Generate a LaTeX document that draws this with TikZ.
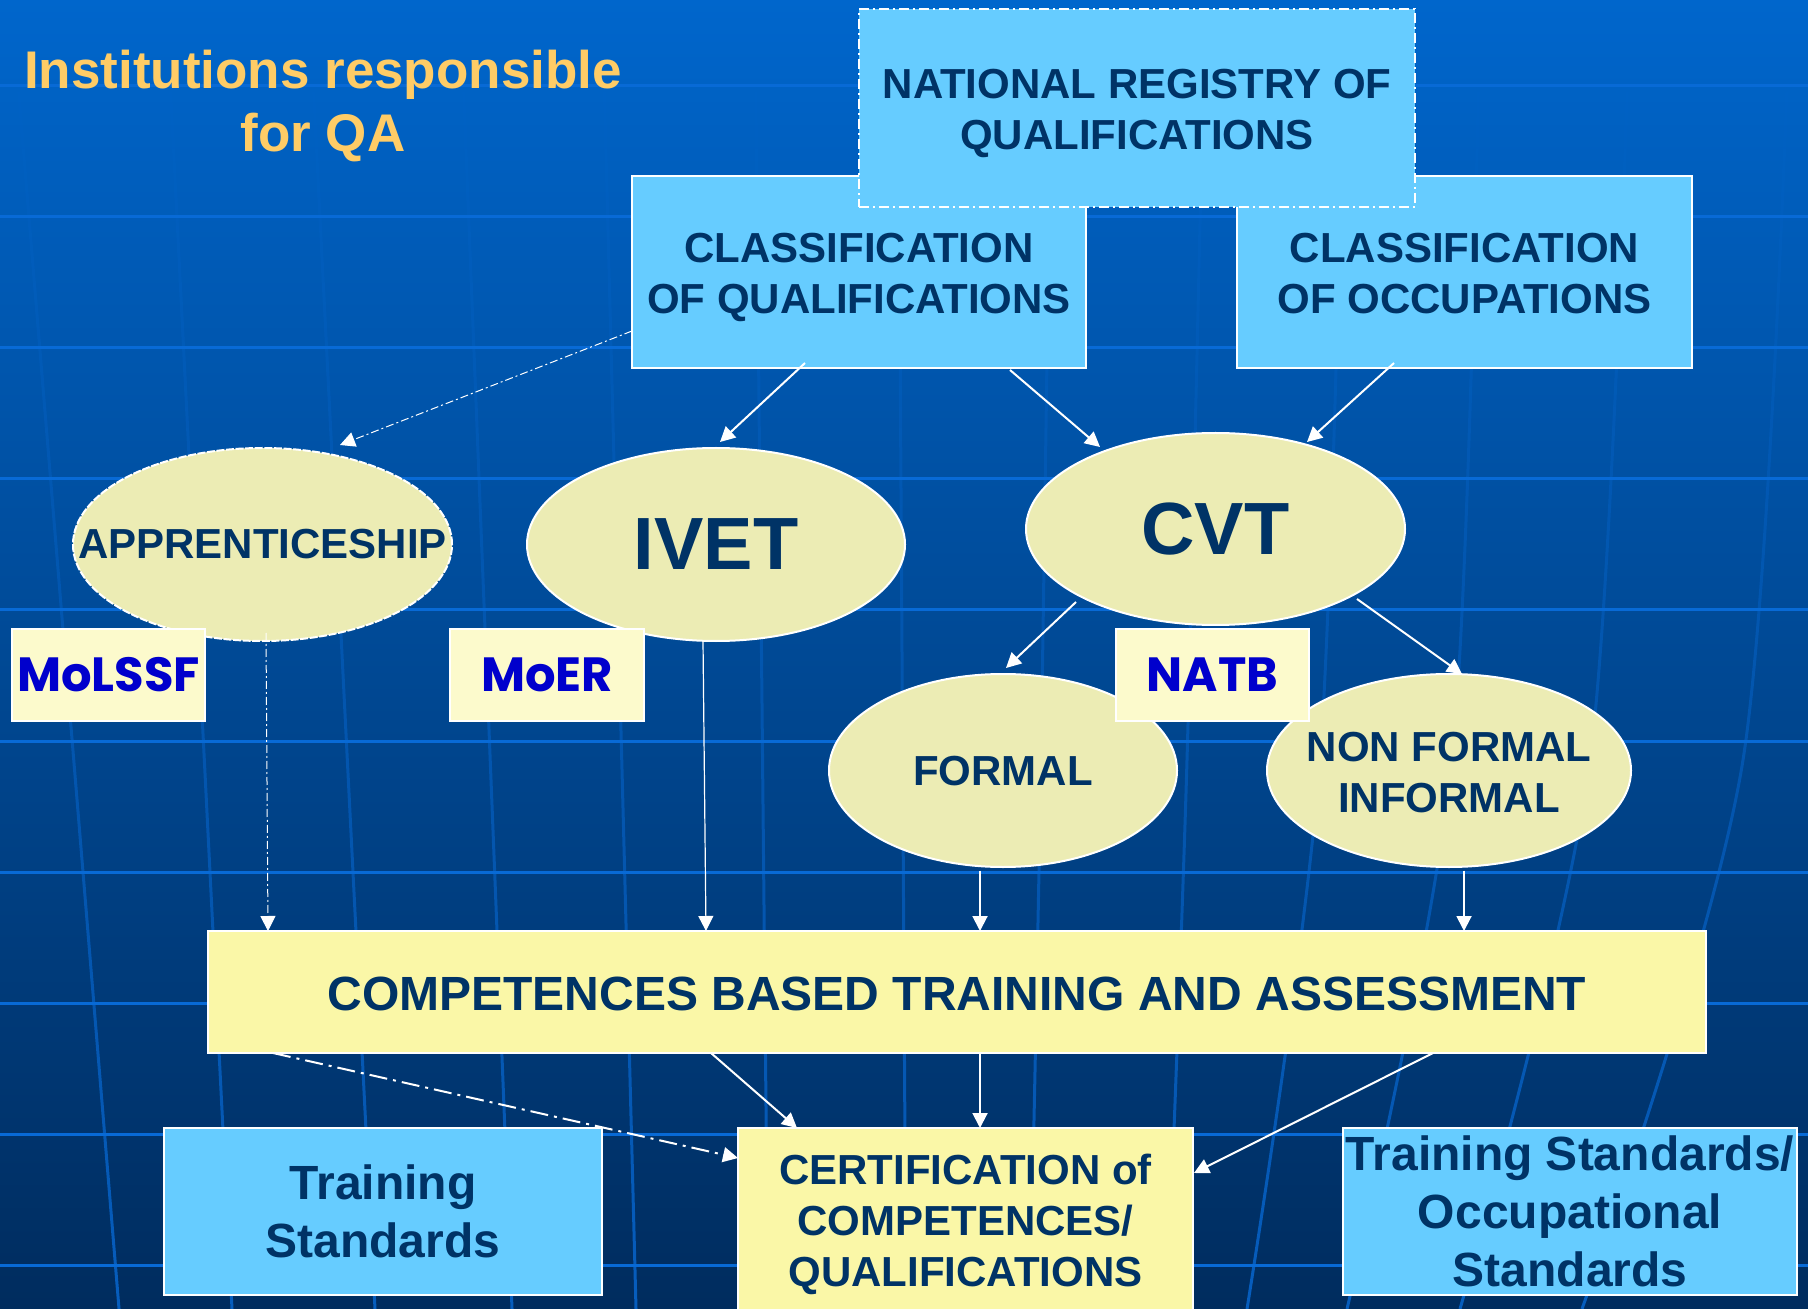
\documentclass[tikz,border=0pt]{standalone}
\usepackage{fontspec}
\setmainfont{Liberation Sans}
\newfontfamily\comicfont{Poppins}
\usetikzlibrary{arrows.meta,shapes.geometric,calc,fadings}
\definecolor{bgtop}{RGB}{0,102,204}
\definecolor{bgbot}{RGB}{0,44,94}
\definecolor{gridc}{RGB}{8,106,214}
\definecolor{lblue}{HTML}{66CCFF}
\definecolor{khaki}{RGB}{236,236,180}
\definecolor{pale}{RGB}{252,250,204}
\definecolor{cyel}{RGB}{250,247,167}
\definecolor{navy}{HTML}{003366}
\definecolor{tagblue}{HTML}{0000CC}
\definecolor{gold}{HTML}{FFCC66}
\begin{document}
\begin{tikzpicture}[x=0.5pt,y=-0.5pt,
  txt/.style={text=navy, align=center, inner sep=0pt, font=\bfseries\fontsize{21pt}{25.5pt}\selectfont},
  box/.style={txt, draw=white, line width=1pt, outer sep=0pt},
  bluebox/.style={box, fill=lblue},
  oval/.style={ellipse, draw=white, line width=1pt, fill=khaki, inner sep=0pt, outer sep=0pt},
  tag/.style={draw=white, line width=1pt, fill=pale, inner sep=0pt, outer sep=0pt, minimum height=46pt, text=tagblue, font=\comicfont\bfseries\fontsize{24pt}{28pt}\selectfont},
  arr/.style={draw=white, line width=1pt, -{Triangle[length=7.5pt,width=7.5pt]}},
  thindash/.style={arr, line width=0.5pt, dash pattern=on 4pt off 1.5pt on 1pt off 1.5pt},
  thickdash/.style={arr, dash pattern=on 9pt off 3pt on 1.5pt off 3pt},
  gridline/.style={draw=gridc, line width=1.5pt},
  meridian/.style={draw=gridc, line width=1.5pt, opacity=0.8, path fading=north}
]
\useasboundingbox (0,0) rectangle (1808,1309);
% background
\shade[top color=bgtop, bottom color=bgbot] (0,0) rectangle (1808,1309);
\foreach \yy in {86,217,348,479,610,741,872,1003,1134,1265}
  \draw[gridline] (0,\yy) -- (1808,\yy);
\draw[meridian] (11,0) -- (119,1309);
\draw[meridian] (166,0) -- (232,1309);
\draw[meridian] (309,0) -- (375,1309);
\draw[meridian] (460,0) -- (512,1309);
\draw[meridian] (602,0) -- (636,1309);
\draw[meridian] (755,0) -- (768,1309);
\draw[meridian] (898,0) -- (906,1309);
\draw[meridian] plot[smooth] coordinates {(1052,0) (1041,760) (1030,1309)};
\draw[meridian] plot[smooth] coordinates {(1205,0) (1187,760) (1167,1309)};
\draw[meridian] plot[smooth] coordinates {(1345,0) (1320,760) (1247,1309)};
\draw[meridian] plot[smooth] coordinates {(1480,0) (1452,760) (1347,1309)};
\draw[meridian] plot[smooth] coordinates {(1630,0) (1590,760) (1460,1309)};
\draw[meridian] plot[smooth] coordinates {(1790,0) (1743,760) (1582,1309)};

% title
\node[text=gold, align=center, inner sep=0pt, font=\bfseries\fontsize{26.5pt}{31.5pt}\selectfont] (title) at (323,106) {Institutions responsible\\for QA};

% top boxes
\node[bluebox, minimum width=227pt, minimum height=96pt] (cq) at (859,272) {};
\node[txt] (cqtext) at (859,277) {CLASSIFICATION\\OF QUALIFICATIONS};
\node[bluebox, minimum width=227.5pt, minimum height=96pt] (co) at (1464.5,272) {};
\node[txt] (cotext) at (1464.5,274) {CLASSIFICATION\\OF OCCUPATIONS};
\node[bluebox, minimum width=278pt, minimum height=99pt, dash pattern=on 5pt off 2pt on 1pt off 2pt] (nrq) at (1137,108) {};
\node[txt] (nrqtext) at (1137,113) {NATIONAL REGISTRY OF\\QUALIFICATIONS};

% ellipses
\node[oval, minimum width=189.5pt, minimum height=96.5pt, dash pattern=on 4pt off 0.8pt] (appr) at (262.5,544.5) {};
\node[txt] (apprtext) at (appr) {APPRENTICESHIP};
\node[oval, minimum width=189pt, minimum height=96.5pt] (ivet) at (716,544.5) {};
\node[txt, font=\bfseries\fontsize{37pt}{40pt}\selectfont] (ivettext) at (ivet) {IVET};
\node[oval, minimum width=189.5pt, minimum height=96pt] (cvt) at (1215.5,529) {};
\node[txt, font=\bfseries\fontsize{37pt}{40pt}\selectfont] (cvttext) at (cvt) {CVT};
\node[oval, minimum width=174pt, minimum height=96.5pt] (formal) at (1003,770.5) {};
\node[txt] (formaltext) at (1003,771.5) {FORMAL};
\node[oval, minimum width=182pt, minimum height=96.5pt] (nonformal) at (1449,770.5) {};
\node[txt] (nonformaltext) at (1449,773) {NON FORMAL\\INFORMAL};

% tags
\node[tag, minimum width=96.5pt] (molssf) at (108.5,675) {MoLSSF};
\node[tag, minimum width=97pt] (moer) at (547,675) {MoER};
\node[tag, minimum width=96.5pt] (natb) at (1212.5,675) {NATB};

% competences
\node[box, fill=cyel, minimum width=749pt, minimum height=61pt] (comp) at (957,992) {};
\node[txt, font=\bfseries\fontsize{24pt}{28pt}\selectfont] (comptext) at (957,994) {COMPETENCES BASED TRAINING AND ASSESSMENT};

% bottom boxes
\node[bluebox, minimum width=219pt, minimum height=83.5pt, font=\bfseries\fontsize{24pt}{29pt}\selectfont] (ts) at (383,1211.5) {Training\\Standards};
\node[box, fill=cyel, minimum width=227.5pt, minimum height=101pt] (cert) at (965.5,1229) {};
\node[txt] (certtext) at (965.5,1224) {CERTIFICATION of\\COMPETENCES/\\QUALIFICATIONS};
\node[bluebox, minimum width=227pt, minimum height=83.5pt, font=\bfseries\fontsize{24pt}{29pt}\selectfont] (tsos) at (1570,1211.5) {Training Standards/\\Occupational\\Standards};

% connectors
\draw[thindash] ([yshift=18.5pt]cq.south west) -- ([xshift=38.75pt,yshift=1.5pt]appr.north);
\draw[arr] ([xshift=-27pt,yshift=2.5pt]cq.south) -- ([xshift=2pt,yshift=3pt]ivet.north);
\draw[arr] ([xshift=75.5pt,yshift=-1pt]cq.south) -- ([xshift=-57.75pt,yshift=-7pt]cvt.north);
\draw[arr] ([xshift=-35.25pt,yshift=2.5pt]co.south) -- ([xshift=45.75pt,yshift=-4.5pt]cvt.north);
\draw[arr] ([xshift=-69.75pt,yshift=11.5pt]cvt.south) -- ([xshift=1.5pt,yshift=3pt]formal.north);
\draw[arr] ([xshift=70.75pt,yshift=13pt]cvt.south) -- ([xshift=6.5pt]nonformal.north);
\draw[thindash] ([xshift=1.75pt,yshift=4pt]appr.south) -- ([xshift=30pt]comp.north west);
\draw[arr, line width=0.6pt] ([xshift=-6.5pt]ivet.south) -- ([xshift=249pt]comp.north west);
\draw[arr] ([xshift=-11.5pt,yshift=-1.75pt]formal.south) -- ([xshift=11.5pt]comp.north);
\draw[arr] ([xshift=7.5pt,yshift=-1.75pt]nonformal.south) -- ([xshift=253.5pt]comp.north);
\draw[thickdash] ([xshift=32.5pt]comp.south west) -- ([yshift=-15pt]cert.north west);
\draw[arr] ([xshift=251.5pt]comp.south west) -- ([xshift=29.5pt]cert.north west);
\draw[arr] ([xshift=11.5pt]comp.south) -- ([xshift=121pt]cert.north west);
\draw[arr] ([xshift=-136.5pt]comp.south east) -- ([xshift=0.5pt,yshift=-22.5pt]cert.north east);
\end{tikzpicture}
\end{document}
